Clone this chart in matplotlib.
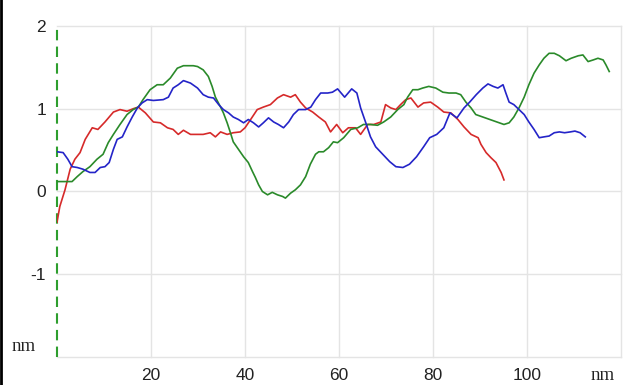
import matplotlib
matplotlib.use("Agg")
import matplotlib.pyplot as plt
from matplotlib.lines import Line2D
import numpy as np

# profile traces (x in nm, height in nm)
red_x = [0, 0.6, 1.7, 2.8, 3.8, 4.9, 6, 7.5, 8.7, 10.2, 12, 13.4, 14.9, 16.2, 17.3,
         18.8, 20.5, 22, 23.5, 24.7, 25.8, 26.9, 28.4, 31.1, 32.6, 33.7, 34.8, 36.2,
         37.5, 39, 40, 41.2, 42.6, 43.9, 45.4, 46.9, 48.2, 49.7, 50.7, 51.8, 52.9,
         54.4, 55.7, 57.1, 58.2, 59.5, 60.8, 62, 63.5, 64.6, 66.1, 67.4, 68.9, 69.9,
         71, 72.1, 73.1, 74.2, 75.3, 76.8, 78, 79.5, 81, 82.3, 83.8, 85.3, 86.6,
         88.1, 89.6, 90.2, 91.3, 92.3, 93.4, 94.5, 95.1]
red_y = [-0.37, -0.18, 0.02, 0.27, 0.39, 0.47, 0.63, 0.77, 0.75, 0.84, 0.96, 0.99,
         0.97, 1.0, 1.02, 0.95, 0.84, 0.83, 0.77, 0.75, 0.69, 0.74, 0.69, 0.69, 0.71,
         0.66, 0.72, 0.69, 0.71, 0.72, 0.77, 0.87, 0.99, 1.02, 1.05, 1.13, 1.17, 1.14,
         1.17, 1.08, 1.01, 0.96, 0.9, 0.84, 0.72, 0.81, 0.71, 0.77, 0.77, 0.69, 0.81,
         0.81, 0.84, 1.05, 1.01, 0.99, 1.05, 1.11, 1.13, 1.02, 1.07, 1.08, 1.02, 0.96,
         0.95, 0.87, 0.78, 0.69, 0.65, 0.57, 0.47, 0.41, 0.35, 0.23, 0.14]

green_x = [0, 3.2, 4.3, 5.5, 7, 8.5, 9.8, 10.9, 12, 13.4, 14.9, 16.2, 17.3, 18.3,
           19.8, 21.3, 22.6, 24.1, 25.6, 26.9, 29, 29.9, 31.1, 32.2, 33, 33.7, 34.8,
           35.4, 36.2, 36.9, 37.5, 38.6, 39.7, 40.7, 41.6, 42.2, 42.9, 43.7, 44.8,
           45.8, 46.9, 48, 48.6, 49.7, 50.7, 51.8, 52.9, 53.9, 55, 55.7, 56.7, 57.8,
           58.8, 59.7, 61, 62.5, 64, 65.2, 66.7, 68.2, 69.5, 71, 72.5, 73.8, 74.6,
           75.7, 76.8, 77.8, 79.1, 80.6, 82.1, 83.4, 84.9, 85.9, 87, 88.1, 89.1, 90.6,
           92.1, 93.6, 95.1, 96.2, 97.2, 98.3, 99.4, 100.4, 101.5, 102.6, 103.6,
           104.7, 105.8, 106.9, 108.3, 109.4, 110.9, 111.9, 113, 114.1, 115.1, 116.2,
           116.8, 117.5]
green_y = [0.12, 0.12, 0.18, 0.24, 0.3, 0.39, 0.45, 0.59, 0.69, 0.81, 0.93, 0.99,
           1.02, 1.11, 1.23, 1.29, 1.29, 1.37, 1.49, 1.52, 1.52, 1.51, 1.47, 1.39,
           1.27, 1.14, 1.02, 0.95, 0.83, 0.71, 0.6, 0.51, 0.42, 0.35, 0.24, 0.17, 0.08,
           0.0, -0.04, -0.01, -0.04, -0.06, -0.08, -0.02, 0.02, 0.08, 0.18, 0.33, 0.45,
           0.48, 0.48, 0.53, 0.6, 0.59, 0.65, 0.75, 0.77, 0.81, 0.81, 0.8, 0.84, 0.9,
           0.99, 1.05, 1.14, 1.23, 1.23, 1.25, 1.27, 1.25, 1.2, 1.19, 1.19, 1.17, 1.08,
           1.01, 0.93, 0.9, 0.87, 0.84, 0.81, 0.83, 0.9, 1.01, 1.14, 1.29, 1.43, 1.53,
           1.61, 1.67, 1.67, 1.64, 1.58, 1.61, 1.64, 1.65, 1.57, 1.59, 1.61, 1.59,
           1.53, 1.45]

blue_x = [0, 1.3, 2.3, 3.2, 4.3, 5.5, 7, 8.1, 9.2, 10.2, 11.1, 12, 12.8, 13.9, 14.9,
          16, 17.1, 18.1, 19.2, 20.5, 22.6, 23.7, 24.7, 25.8, 26.9, 28.4, 29.9, 31.1,
          32.2, 33.3, 34.4, 35.4, 36.5, 37.5, 38.6, 39.7, 40.7, 41.8, 42.9, 43.9, 45,
          46.1, 47.1, 48.2, 49.3, 50.3, 51.4, 52.9, 54, 55, 56.1, 57.6, 58.6, 59.7,
          61.2, 62.7, 63.8, 64.6, 65.7, 66.7, 67.8, 69.3, 70.8, 72.1, 73.6, 75, 76.5,
          78, 79.3, 80.8, 82.3, 83.6, 85.1, 86.6, 87.8, 89.2, 90.6, 91.7, 92.8, 93.8,
          94.9, 95.5, 96.2, 97.2, 98.3, 99.4, 100.4, 101.5, 102.6, 103.6, 104.7,
          105.8, 106.9, 108, 109.2, 110.2, 111.3, 112.4]
blue_y = [0.48, 0.47, 0.39, 0.3, 0.29, 0.27, 0.23, 0.23, 0.29, 0.3, 0.35, 0.51, 0.63,
          0.66, 0.78, 0.9, 1.01, 1.07, 1.11, 1.1, 1.11, 1.14, 1.25, 1.29, 1.34, 1.31,
          1.25, 1.17, 1.14, 1.13, 1.05, 0.99, 0.95, 0.9, 0.87, 0.83, 0.87, 0.83, 0.78,
          0.83, 0.89, 0.84, 0.81, 0.77, 0.84, 0.93, 0.99, 0.99, 1.02, 1.11, 1.19, 1.19,
          1.2, 1.24, 1.14, 1.24, 1.19, 1.01, 0.83, 0.66, 0.54, 0.45, 0.36, 0.3, 0.29,
          0.33, 0.42, 0.54, 0.65, 0.69, 0.77, 0.95, 0.89, 1.01, 1.08, 1.17, 1.25, 1.3,
          1.27, 1.25, 1.29, 1.19, 1.08, 1.05, 0.99, 0.93, 0.84, 0.75, 0.65, 0.66, 0.67,
          0.71, 0.72, 0.71, 0.72, 0.73, 0.71, 0.66]

x_ticks = [20, 40, 60, 80, 100]
y_ticks = [-1, 0, 1, 2]

fig = plt.figure(figsize=(6.3, 3.85), dpi=100)
ax = fig.add_axes([0.0905, 0.0727, 0.8952, 0.8598])

ax.set_xlim(0, 120)
ax.set_ylim(-2, 2)

# light grid, including the edges of the plot box
for gx in [20, 40, 60, 80, 100, 120]:
    ax.axvline(gx, color="#e4e4e4", lw=1, zorder=0, clip_on=False)
for gy in [-2, -1, 0, 1, 2]:
    ax.axhline(gy, color="#e4e4e4", lw=1, zorder=0, clip_on=False)

# dashed green axis at x = 0
ax.axvline(0, color="#2e9e2e", lw=1.5, ls=(0, (5, 3)), zorder=1, clip_on=False)

ax.plot(red_x, red_y, color="#d62a2a", lw=1.2, zorder=3)
ax.plot(green_x, green_y, color="#2a8a2a", lw=1.2, zorder=3)
ax.plot(blue_x, blue_y, color="#2424c8", lw=1.2, zorder=3)

for s in ax.spines.values():
    s.set_visible(False)

ax.set_xticks(x_ticks)
ax.set_yticks(y_ticks)
ax.set_xticklabels([str(v) for v in x_ticks], fontsize=12.5,
                   family="Liberation Sans", color="#222222")
ax.set_yticklabels([str(v) for v in y_ticks], fontsize=12.5,
                   family="Liberation Sans", color="#222222")
ax.tick_params(length=0, pad=8, axis="y")
ax.tick_params(length=0, pad=8, axis="x")

# unit labels in serif
ax.text(-4.5, -1.87, "nm", ha="right", va="center", fontsize=13.5,
        family="Liberation Serif", color="#222222")
ax.text(116, -2.22, "nm", ha="center", va="center", fontsize=13.5,
        family="Liberation Serif", color="#222222", clip_on=False)

# dark border on the left edge of the image
fig.add_artist(Line2D([0.002, 0.002], [0, 1], color="black", lw=2,
                      transform=fig.transFigure))

fig.savefig("out.png", dpi=100)
